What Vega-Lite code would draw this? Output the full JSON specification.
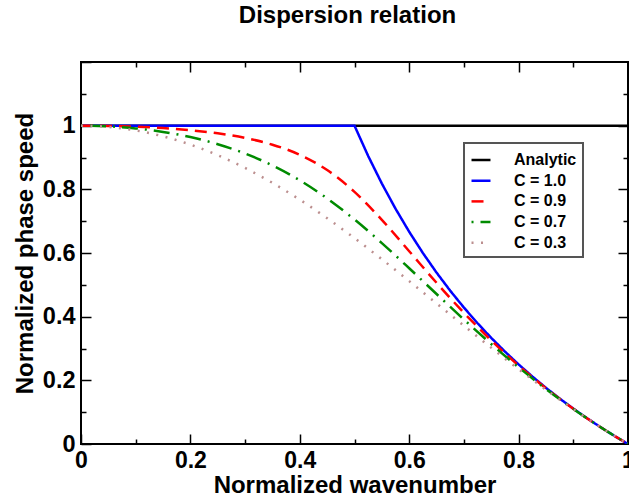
{
  "$schema": "https://vega.github.io/schema/vega-lite/v6.json",
  "width": 547,
  "height": 382,
  "autosize": "none",
  "padding": {"left": 81, "top": 62, "right": 1, "bottom": 55},
  "background": "white",
  "title": {"text": "Dispersion relation", "fontSize": 24, "font": "Liberation Sans", "fontWeight": "bold", "color": "black", "anchor": "middle", "frame": "group", "baseline": "alphabetic", "offset": 3, "dx": -7},
  "data": {"values": [
    {"s": "Analytic", "k": 0, "v": 1}, {"s": "Analytic", "k": 1, "v": 1},
    {"s": "C = 1.0", "k": 0, "v": 1}, {"s": "C = 1.0", "k": 0.25, "v": 1}, {"s": "C = 1.0", "k": 0.5, "v": 1},
    {"s": "C = 1.0", "k": 0.525, "v": 0.904762}, {"s": "C = 1.0", "k": 0.55, "v": 0.818182}, {"s": "C = 1.0", "k": 0.575, "v": 0.73913},
    {"s": "C = 1.0", "k": 0.6, "v": 0.666667}, {"s": "C = 1.0", "k": 0.625, "v": 0.6}, {"s": "C = 1.0", "k": 0.65, "v": 0.538462},
    {"s": "C = 1.0", "k": 0.675, "v": 0.481481}, {"s": "C = 1.0", "k": 0.7, "v": 0.428571}, {"s": "C = 1.0", "k": 0.725, "v": 0.37931},
    {"s": "C = 1.0", "k": 0.75, "v": 0.333333}, {"s": "C = 1.0", "k": 0.775, "v": 0.290323}, {"s": "C = 1.0", "k": 0.8, "v": 0.25},
    {"s": "C = 1.0", "k": 0.825, "v": 0.212121}, {"s": "C = 1.0", "k": 0.85, "v": 0.176471}, {"s": "C = 1.0", "k": 0.875, "v": 0.142857},
    {"s": "C = 1.0", "k": 0.9, "v": 0.111111}, {"s": "C = 1.0", "k": 0.925, "v": 0.081081}, {"s": "C = 1.0", "k": 0.95, "v": 0.052632},
    {"s": "C = 1.0", "k": 0.975, "v": 0.025641}, {"s": "C = 1.0", "k": 1, "v": 0},
    {"s": "C = 0.9", "k": 0, "v": 1}, {"s": "C = 0.9", "k": 0.05, "v": 0.99921}, {"s": "C = 0.9", "k": 0.1, "v": 0.99677},
    {"s": "C = 0.9", "k": 0.15, "v": 0.99244}, {"s": "C = 0.9", "k": 0.2, "v": 0.98575}, {"s": "C = 0.9", "k": 0.25, "v": 0.97589},
    {"s": "C = 0.9", "k": 0.3, "v": 0.96149}, {"s": "C = 0.9", "k": 0.35, "v": 0.94026}, {"s": "C = 0.9", "k": 0.4, "v": 0.90841},
    {"s": "C = 0.9", "k": 0.45, "v": 0.8606}, {"s": "C = 0.9", "k": 0.5, "v": 0.79208}, {"s": "C = 0.9", "k": 0.55, "v": 0.70413},
    {"s": "C = 0.9", "k": 0.6, "v": 0.60561}, {"s": "C = 0.9", "k": 0.65, "v": 0.50629}, {"s": "C = 0.9", "k": 0.7, "v": 0.41207},
    {"s": "C = 0.9", "k": 0.75, "v": 0.3253}, {"s": "C = 0.9", "k": 0.8, "v": 0.24644}, {"s": "C = 0.9", "k": 0.85, "v": 0.17514},
    {"s": "C = 0.9", "k": 0.9, "v": 0.11075}, {"s": "C = 0.9", "k": 0.95, "v": 0.05259}, {"s": "C = 0.9", "k": 1, "v": 0},
    {"s": "C = 0.7", "k": 0, "v": 1}, {"s": "C = 0.7", "k": 0.05, "v": 0.99789}, {"s": "C = 0.7", "k": 0.1, "v": 0.99147},
    {"s": "C = 0.7", "k": 0.15, "v": 0.9804}, {"s": "C = 0.7", "k": 0.2, "v": 0.96413}, {"s": "C = 0.7", "k": 0.25, "v": 0.94185},
    {"s": "C = 0.7", "k": 0.3, "v": 0.91252}, {"s": "C = 0.7", "k": 0.35, "v": 0.87499}, {"s": "C = 0.7", "k": 0.4, "v": 0.82816},
    {"s": "C = 0.7", "k": 0.45, "v": 0.77142}, {"s": "C = 0.7", "k": 0.5, "v": 0.70519}, {"s": "C = 0.7", "k": 0.55, "v": 0.63117},
    {"s": "C = 0.7", "k": 0.6, "v": 0.55211}, {"s": "C = 0.7", "k": 0.65, "v": 0.47115}, {"s": "C = 0.7", "k": 0.7, "v": 0.39108},
    {"s": "C = 0.7", "k": 0.75, "v": 0.31395}, {"s": "C = 0.7", "k": 0.8, "v": 0.24103}, {"s": "C = 0.7", "k": 0.85, "v": 0.17301},
    {"s": "C = 0.7", "k": 0.9, "v": 0.11016}, {"s": "C = 0.7", "k": 0.95, "v": 0.05252}, {"s": "C = 0.7", "k": 1, "v": 0},
    {"s": "C = 0.3", "k": 0, "v": 1}, {"s": "C = 0.3", "k": 0.05, "v": 0.99625}, {"s": "C = 0.3", "k": 0.1, "v": 0.98504},
    {"s": "C = 0.3", "k": 0.15, "v": 0.9664}, {"s": "C = 0.3", "k": 0.2, "v": 0.94041}, {"s": "C = 0.3", "k": 0.25, "v": 0.90721},
    {"s": "C = 0.3", "k": 0.3, "v": 0.86705}, {"s": "C = 0.3", "k": 0.35, "v": 0.82031}, {"s": "C = 0.3", "k": 0.4, "v": 0.76749},
    {"s": "C = 0.3", "k": 0.45, "v": 0.7093}, {"s": "C = 0.3", "k": 0.5, "v": 0.64658}, {"s": "C = 0.3", "k": 0.55, "v": 0.58033},
    {"s": "C = 0.3", "k": 0.6, "v": 0.51166}, {"s": "C = 0.3", "k": 0.65, "v": 0.4417}, {"s": "C = 0.3", "k": 0.7, "v": 0.37159},
    {"s": "C = 0.3", "k": 0.75, "v": 0.3024}, {"s": "C = 0.3", "k": 0.8, "v": 0.2351}, {"s": "C = 0.3", "k": 0.85, "v": 0.17054},
    {"s": "C = 0.3", "k": 0.9, "v": 0.10945}, {"s": "C = 0.3", "k": 0.95, "v": 0.05243}, {"s": "C = 0.3", "k": 1, "v": 0}
  ]},
  "encoding": {
    "color": {"field": "s", "type": "nominal",
      "scale": {"domain": ["Analytic", "C = 1.0", "C = 0.9", "C = 0.7", "C = 0.3"], "range": ["#000000", "#0000ff", "#ff0000", "#008b00", "#bc8f8f"]},
      "legend": {"title": null, "orient": "none", "legendX": 383, "legendY": 81}},
    "strokeDash": {"field": "s", "type": "nominal",
      "scale": {"domain": ["Analytic", "C = 1.0", "C = 0.9", "C = 0.7", "C = 0.3"], "range": [[1, 0], [1, 0], [12, 7], [2, 7, 16, 7], [2, 7.5]]},
      "legend": {"title": null, "orient": "none", "legendX": 383, "legendY": 81}}
  },
  "layer": [
    {
      "transform": [{"filter": "datum.s === 'Analytic'"}],
      "mark": {"type": "line", "strokeWidth": 2.5, "clip": true},
      "encoding": {
        "x": {"field": "k", "type": "quantitative", "scale": {"domain": [0, 1], "nice": false, "zero": false},
          "axis": {"orient": "bottom", "values": [0, 0.2, 0.4, 0.6, 0.8, 1], "tickSize": -10, "format": "~g", "title": "Normalized wavenumber", "labelPadding": 15, "titlePadding": 1, "labelFontSize": 23, "titleFontSize": 24}},
        "y": {"field": "v", "type": "quantitative", "scale": {"domain": [0, 1.2], "nice": false, "zero": false},
          "axis": {"orient": "left", "values": [0, 0.2, 0.4, 0.6, 0.8, 1, 1.2], "tickSize": -10, "format": "~g", "labelExpr": "datum.value > 1.05 ? '' : datum.label", "title": "Normalized phase speed", "labelPadding": 16, "titlePadding": 5, "labelFontSize": 23.5, "titleFontSize": 24}}
      }
    },
    {
      "transform": [{"filter": "datum.s === 'C = 1.0'"}],
      "mark": {"type": "line", "strokeWidth": 2.5, "clip": true},
      "encoding": {
        "x": {"field": "k", "type": "quantitative", "scale": {"domain": [0, 1], "nice": false, "zero": false},
          "axis": {"orient": "bottom", "values": [0.1, 0.3, 0.5, 0.7, 0.9], "tickSize": -5, "labels": false, "title": null}},
        "y": {"field": "v", "type": "quantitative", "scale": {"domain": [0, 1.2], "nice": false, "zero": false},
          "axis": {"orient": "left", "values": [0.1, 0.3, 0.5, 0.7, 0.9, 1.1], "tickSize": -5, "labels": false, "title": null}}
      }
    },
    {
      "transform": [{"filter": "datum.s === 'C = 0.9'"}],
      "mark": {"type": "line", "strokeWidth": 2.5, "clip": true, "interpolate": "monotone"},
      "encoding": {
        "x": {"field": "k", "type": "quantitative", "scale": {"domain": [0, 1], "nice": false, "zero": false},
          "axis": {"orient": "top", "values": [0.2, 0.4, 0.6, 0.8], "tickSize": -10, "labels": false, "title": null}},
        "y": {"field": "v", "type": "quantitative", "scale": {"domain": [0, 1.2], "nice": false, "zero": false},
          "axis": {"orient": "right", "values": [0.2, 0.4, 0.6, 0.8, 1], "tickSize": -10, "labels": false, "title": null}}
      }
    },
    {
      "transform": [{"filter": "datum.s === 'C = 0.7'"}],
      "mark": {"type": "line", "strokeWidth": 2.5, "clip": true, "interpolate": "monotone"},
      "encoding": {
        "x": {"field": "k", "type": "quantitative", "scale": {"domain": [0, 1], "nice": false, "zero": false},
          "axis": {"orient": "top", "values": [0.1, 0.3, 0.5, 0.7, 0.9], "tickSize": -5, "labels": false, "title": null}},
        "y": {"field": "v", "type": "quantitative", "scale": {"domain": [0, 1.2], "nice": false, "zero": false},
          "axis": {"orient": "right", "values": [0.1, 0.3, 0.5, 0.7, 0.9, 1.1], "tickSize": -5, "labels": false, "title": null}}
      }
    },
    {
      "transform": [{"filter": "datum.s === 'C = 0.3'"}],
      "mark": {"type": "line", "strokeWidth": 2.5, "clip": true, "interpolate": "monotone"},
      "encoding": {
        "x": {"field": "k", "type": "quantitative", "scale": {"domain": [0, 1], "nice": false, "zero": false}, "axis": null},
        "y": {"field": "v", "type": "quantitative", "scale": {"domain": [0, 1.2], "nice": false, "zero": false}, "axis": null}
      }
    }
  ],
  "resolve": {"axis": {"x": "independent", "y": "independent"}},
  "config": {
    "view": {"stroke": "black", "strokeWidth": 2},
    "axis": {"domain": false, "grid": false, "labelFont": "Liberation Sans", "labelFontWeight": "bold", "labelFontSize": 22, "labelColor": "black",
      "titleFont": "Liberation Sans", "titleFontWeight": "bold", "titleFontSize": 22, "titleColor": "black", "tickColor": "black", "tickWidth": 1.5,
      "labelFlush": false, "labelOverlap": false, "labelBound": false},
    "legend": {"symbolType": "stroke", "symbolSize": 360, "symbolStrokeWidth": 2.5, "labelFont": "Liberation Sans", "labelFontWeight": "bold",
      "labelFontSize": 16, "labelColor": "black", "labelOffset": 22, "padding": 6, "rowPadding": 1.7, "strokeColor": "#555555", "strokeWidth": 2, "fillColor": "white"}
  }
}
